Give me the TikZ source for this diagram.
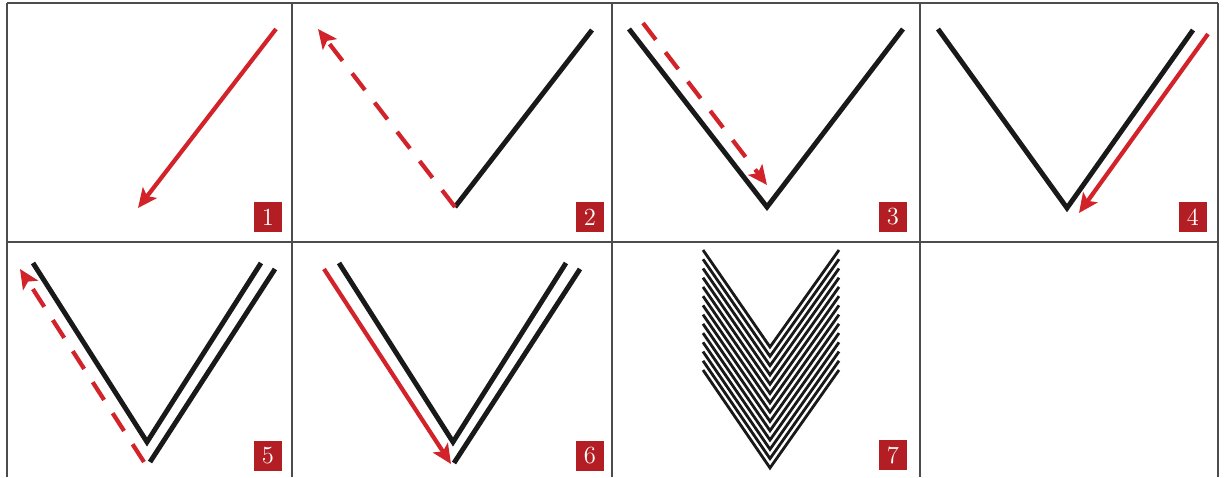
\documentclass[tikz,border=0pt]{standalone}
\usepackage{tikz}
\usetikzlibrary{arrows.meta}
\definecolor{arrowred}{HTML}{D2232A}
\definecolor{badgered}{HTML}{B31E24}

\begin{document}
\begin{tikzpicture}[x=0.02cm,y=-0.02cm,
    frame/.style={line width=0.6pt, black!70},
    fold/.style={line width=2.8pt, black!90},
    thinfold/.style={line width=1.6pt, black!90},
    redarrow/.style={line width=2.4pt, arrowred, -{Stealth[length=11pt,width=10pt,inset=2.5pt]}},
    ghost/.style={redarrow, dash pattern=on 12pt off 9pt},
    badge/.style={fill=badgered, text=white, minimum width=0.56cm, minimum height=0.6cm,
        inner sep=0pt, font=\fontsize{14}{14}\selectfont}]
    \useasboundingbox (0,0) rectangle (1228,477);

    % Grid
    \draw[frame] (7,3) -- (1218,3);
    \draw[frame] (7,242) -- (1218,242);
    \foreach \x in {7, 292, 612, 920, 1218} \draw[frame] (\x,3) -- (\x,477);

    % Panel 1
    \draw[redarrow] (276,29) -- (138,208);
    \node[badge] (b1) at (268,217) {1};

    % Panel 2
    \coordinate (v2) at (455,207);
    \draw[fold] (v2) -- (592,30);
    \draw[ghost] (v2) -- (318,29);
    \node[badge] (b2) at (590,217) {2};

    % Panel 3
    \coordinate (v3) at (767,207);
    \draw[fold] (629,29) -- (v3) -- (903,29);
    \draw[ghost] (643,23) -- (767,185);
    \node[badge] (b3) at (893,217) {3};

    % Panel 4
    \coordinate (v4) at (1067,208);
    \draw[fold] (938,29) -- (v4) -- (1193,30);
    \draw[redarrow] (1208,34) -- (1079,213);
    \node[badge] (b4) at (1193,217) {4};

    % Panel 5
    \coordinate (v5a) at (147,442);
    \coordinate (v5b) at (150,462);
    \draw[fold] (33,263) -- (v5a) -- (261,263);
    \draw[fold] (v5b) -- (275,269);
    \draw[ghost] (144,462) -- (20,269);
    \node[badge] (b5) at (268,456) {5};

    % Panel 6
    \coordinate (v6a) at (453,442);
    \coordinate (v6b) at (454,463);
    \draw[fold] (339,263) -- (v6a) -- (566,263);
    \draw[fold] (v6b) -- (580,269);
    \draw[redarrow] (324,269) -- (451,464);
    \node[badge] (b6) at (590,456) {6};

    % Panel 7
    \foreach \i in {0,...,13}
        \draw[thinfold] (703,250+\i*9.23) -- (770,347+\i*9.3) -- (839,250+\i*9.23);
    \node[badge] (b7) at (893,455) {7};
\end{tikzpicture}
\end{document}
